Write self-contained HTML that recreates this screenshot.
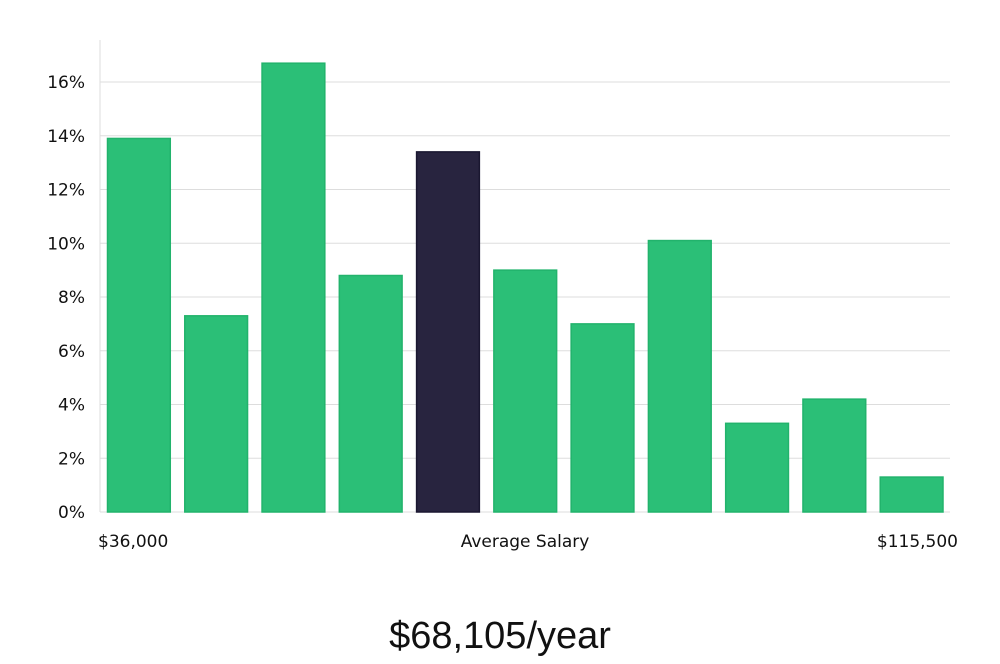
<!DOCTYPE html>
<html><head><meta charset="utf-8"><style>
html,body{margin:0;padding:0;background:#fff;}
body{width:1000px;height:660px;overflow:hidden;font-family:"DejaVu Sans","Liberation Sans",sans-serif;}
svg text{fill:#111;}
</style></head><body>
<svg id="chart" width="1000" height="660" xmlns="http://www.w3.org/2000/svg"></svg>
<script>
const categories = ["b1","b2","b3","b4","b5","b6","b7","b8","b9","b10","b11"];
const values = [13.9, 7.3, 16.7, 8.8, 13.4, 9.0, 7.0, 10.1, 3.3, 4.2, 1.3];
const highlightIndex = 4;
const yTicks = [0, 2, 4, 6, 8, 10, 12, 14, 16];
const xLabels = ["$36,000", "Average Salary", "$115,500"];
const summary = "$68,105/year";

const NS = "http://www.w3.org/2000/svg";
const svg = document.getElementById("chart");
const X0 = 100, X1 = 950, Y0 = 512, pxPerUnit = 26.875;
const band = (X1 - X0) / categories.length;
const yScale = v => Y0 - v * pxPerUnit;
const xScale = i => X0 + i * band;
function mk(tag, attrs){ const e = document.createElementNS(NS, tag); for (const k in attrs) e.setAttribute(k, attrs[k]); svg.appendChild(e); return e; }

yTicks.forEach(t => {
  const y = yScale(t);
  if (t > 0) {
    const g = mk("line", {x1: X0, x2: X1, y1: y, y2: y, stroke: "#dddddd", "stroke-width": 1});
    
    
  }
  const tx = mk("text", {x: 85, y: y + 6, "text-anchor": "end", "font-size": 17});
  tx.textContent = t + "%";
  
  
});

const ax = mk("line", {x1: X0, x2: X0, y1: 40, y2: Y0, stroke: "#dddddd", "stroke-width": 1});


const bx = mk("line", {x1: X0, x2: X1, y1: Y0, y2: Y0, stroke: "#dddddd", "stroke-width": 1});



values.forEach((v, i) => {
  const hi = i === highlightIndex;
  const r = mk("rect", {x: xScale(i) + 7.5, y: yScale(v), width: band - 14.5, height: Y0 - yScale(v),
    fill: hi ? "#28243f" : "#2bbf77", stroke: hi ? "#1a1730" : "#22b36c", "stroke-width": 1.5});
  
  
});

const xl = [[98, "start"], [525, "middle"], [958, "end"]];
xLabels.forEach((l, i) => {
  const t = mk("text", {x: xl[i][0], y: 547, "text-anchor": xl[i][1], "font-size": 17});
  t.textContent = l;
  
  
});

const s = mk("text", {x: 500, y: 648, "text-anchor": "middle", "font-size": 38, "font-family": "Liberation Sans, sans-serif"});
s.textContent = summary;


</script>
</body></html>
